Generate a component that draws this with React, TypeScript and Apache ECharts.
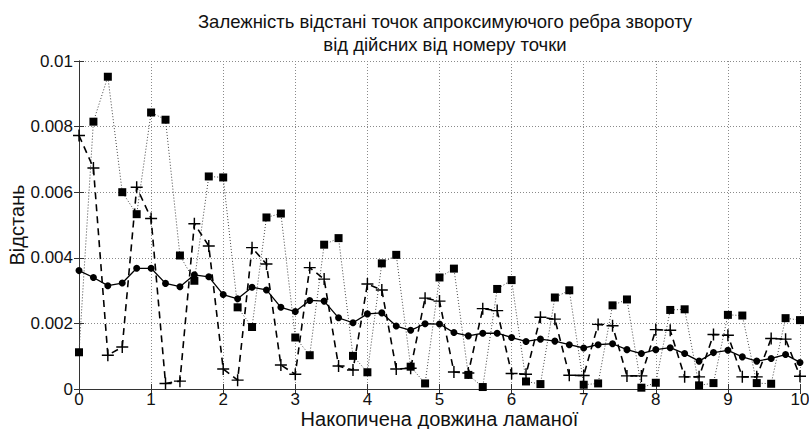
import React, { useEffect, useRef } from "react";
import * as echarts from "echarts";

const xs = [0, 0.2, 0.4, 0.6, 0.8, 1, 1.2, 1.4, 1.6, 1.8, 2, 2.2, 2.4, 2.6, 2.8, 3, 3.2, 3.4, 3.6, 3.8, 4, 4.2, 4.4, 4.6, 4.8, 5, 5.2, 5.4, 5.6, 5.8, 6, 6.2, 6.4, 6.6, 6.8, 7, 7.2, 7.4, 7.6, 7.8, 8, 8.2, 8.4, 8.6, 8.8, 9, 9.2, 9.4, 9.6, 9.8, 10];

const squaresSeries = [0.00112, 0.00815, 0.00952, 0.006, 0.00533, 0.00843, 0.00821, 0.00407, 0.0033, 0.00648, 0.00645, 0.00249, 0.00189, 0.00523, 0.00535, 0.00157, 0.00103, 0.0044, 0.0046, 0.00101, 0.00051, 0.00383, 0.00409, 0.00068, 0.00017, 0.0034, 0.00367, 0.00043, 0.00006, 0.00305, 0.00332, 0.00023, 0.00015, 0.00279, 0.00301, 0.00013, 0.00017, 0.00255, 0.00273, 0.00004, 0.00019, 0.00241, 0.00243, 0.00011, 0.00018, 0.00226, 0.00224, 0.00018, 0.00016, 0.00216, 0.0021];

const plusSeries = [0.00773, 0.00674, 0.00103, 0.00128, 0.00615, 0.0052, 0.00017, 0.00024, 0.00504, 0.00436, 0.00061, 0.00027, 0.00431, 0.00381, 0.00073, 0.00045, 0.0037, 0.00335, 0.0007, 0.00058, 0.0032, 0.00302, 0.00061, 0.00063, 0.00277, 0.00268, 0.00052, 0.00049, 0.00245, 0.00239, 0.00047, 0.00045, 0.00219, 0.00213, 0.00042, 0.00041, 0.00197, 0.00193, 0.0004, 0.0004, 0.00181, 0.00179, 0.00037, 0.00037, 0.00166, 0.00164, 0.00037, 0.00037, 0.00154, 0.00152, 0.00039];

const dotsSeries = [0.00361, 0.0034, 0.00315, 0.00323, 0.00368, 0.00368, 0.00322, 0.00312, 0.00348, 0.00342, 0.00288, 0.00275, 0.0031, 0.00302, 0.00249, 0.00236, 0.0027, 0.00268, 0.00217, 0.00202, 0.00229, 0.00232, 0.00192, 0.00179, 0.00199, 0.00198, 0.00172, 0.00162, 0.0017, 0.0017, 0.00157, 0.00145, 0.00152, 0.00146, 0.00135, 0.00125, 0.00135, 0.00138, 0.0012, 0.00108, 0.0012, 0.00126, 0.00108, 0.00085, 0.00111, 0.00118, 0.00098, 0.00085, 0.00093, 0.00105, 0.00081];

const titleLines = ["Залежність відстані точок апроксимуючого ребра звороту", "від дійсних від номеру точки"];
const xName = "Накопичена довжина ламаної";
const yName = "Відстань";

const FONT = "'Liberation Sans', Arial, sans-serif";
const PLUS = "path://M4.4,0h1.2v4.4h4.4v1.2h-4.4v4.4h-1.2v-4.4h-4.4v-1.2h4.4z";

const pairs = (ys: number[]) => xs.map((x, i) => [x, ys[i]]);

export default function App() {
  const ref = useRef<HTMLDivElement>(null);
  useEffect(() => {
    if (!ref.current) return;
    const chart = echarts.init(ref.current, undefined, { renderer: "svg" });
    const axisLine = { show: true, lineStyle: { color: "#333", width: 1 } };
    chart.setOption({
      animation: false,
      backgroundColor: "#fff",
      textStyle: { fontFamily: FONT },
      title: {
        text: titleLines.join("\n"),
        left: 440,
        top: 5,
        textAlign: "center",
        textStyle: { fontFamily: FONT, fontSize: 18.5, fontWeight: "normal", color: "#111", lineHeight: 23 },
      },
      grid: { left: 79, right: 9, top: 61, bottom: 40, containLabel: false, outerBoundsMode: "none" },
      xAxis: [
        {
          type: "value", min: 0, max: 10, interval: 1, position: "bottom",
          name: xName, nameLocation: "middle", nameGap: 20, nameMoveOverlap: false,
          nameTextStyle: { fontFamily: FONT, fontSize: 20, color: "#111" },
          axisLine, axisTick: { show: true, inside: true, length: 5, lineStyle: { color: "#333" } },
          axisLabel: { fontFamily: FONT, fontSize: 17, color: "#111", margin: 2 },
          splitLine: { show: true, lineStyle: { type: [1, 2], color: "#8a8a8a", width: 1 } },
        },
        {
          type: "value", min: 0, max: 10, interval: 1, position: "top",
          axisLine, axisTick: { show: true, inside: true, length: 5, lineStyle: { color: "#333" } },
          axisLabel: { show: false }, splitLine: { show: false },
        },
      ],
      yAxis: [
        {
          type: "value", min: 0, max: 0.01, interval: 0.002, position: "left",
          name: yName, nameLocation: "middle", nameGap: 52, nameMoveOverlap: false,
          nameTextStyle: { fontFamily: FONT, fontSize: 20, color: "#111" },
          axisLine, axisTick: { show: true, inside: true, length: 5, lineStyle: { color: "#333" } },
          axisLabel: {
            fontFamily: FONT, fontSize: 17, color: "#111", margin: 6,
            formatter: (v: number) => String(parseFloat(v.toFixed(4))),
          },
          splitLine: { show: true, lineStyle: { type: [1, 2], color: "#8a8a8a", width: 1 } },
        },
        {
          type: "value", min: 0, max: 0.01, interval: 0.002, position: "right",
          axisLine, axisTick: { show: true, inside: true, length: 5, lineStyle: { color: "#333" } },
          axisLabel: { show: false }, splitLine: { show: false },
        },
      ],
      series: [
        {
          type: "line", data: pairs(squaresSeries), symbol: "rect", symbolSize: 8,
          itemStyle: { color: "#000" },
          lineStyle: { color: "#444", width: 1, type: [1, 2] },
          z: 2,
        },
        {
          type: "line", data: pairs(plusSeries), symbol: PLUS, symbolSize: 12,
          itemStyle: { color: "#000" },
          lineStyle: { color: "#000", width: 1.6, type: [7, 5] },
          z: 3,
        },
        {
          type: "line", data: pairs(dotsSeries), symbol: "circle", symbolSize: 7,
          itemStyle: { color: "#000" },
          lineStyle: { color: "#000", width: 1.3 },
          z: 4,
        },
      ],
    });
    return () => chart.dispose();
  }, []);
  return <div ref={ref} style={{ position: "absolute", left: 0, top: 0, width: 809, height: 429 }} />;
}
